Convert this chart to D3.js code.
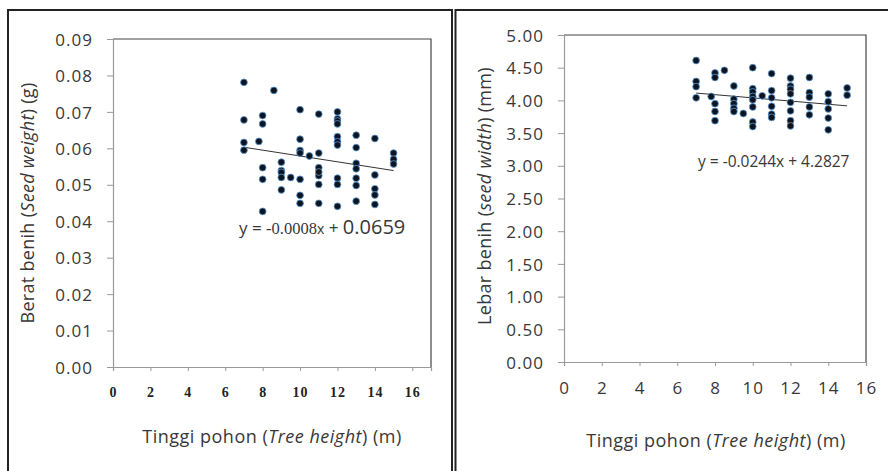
<!DOCTYPE html>
<html>
<head>
<meta charset="utf-8">
<script src="https://cdn.jsdelivr.net/npm/d3@7"></script>
<style>
body { margin: 0; background: #fff; }
svg { display: block; }
.tick-y { font-family: "Open Sans", sans-serif; font-size: 17px; fill: #383838; letter-spacing: 1px; }
.tick-x-serif { font-family: "Liberation Serif", serif; font-weight: bold; font-size: 14px; fill: #222; letter-spacing: 1px; }
.tick-x { font-family: "Open Sans", sans-serif; font-size: 17px; fill: #383838; letter-spacing: 1px; }
.axis-title { font-family: "Open Sans", sans-serif; font-size: 18px; fill: #383838; letter-spacing: 0.3px; }
.x-title { letter-spacing: 0.5px; }
.eq { font-family: "Open Sans", sans-serif; fill: #383838; }
</style>
</head>
<body>
<svg id="chart" width="888" height="471"></svg>
<script>
// tree height vs seed weight (left) and seed width (right)
var weightX = [7, 7, 7, 7, 7.8, 8.6, 8, 8, 8, 8, 8,
	9, 9, 9, 9, 9, 9.5,
	10, 10, 10, 10, 10, 10, 10, 10.5,
	11, 11, 11, 11, 11, 11, 11,
	12, 12, 12, 12, 12, 12, 12, 12, 12, 12,
	13, 13, 13, 13, 13, 13, 13,
	14, 14, 14, 14, 14, 15, 15, 15];
var weightY = [0.0781, 0.0678, 0.0616, 0.0595, 0.0619, 0.0759, 0.069, 0.0667, 0.0547, 0.0515, 0.0427,
	0.0562, 0.0539, 0.0534, 0.052, 0.0486, 0.052,
	0.0706, 0.0625, 0.0594, 0.0587, 0.0515, 0.0471, 0.0449, 0.0579,
	0.0694, 0.0587, 0.0547, 0.0525, 0.0535, 0.0501, 0.0449,
	0.07, 0.0681, 0.0675, 0.0667, 0.0632, 0.0618, 0.0609, 0.0518, 0.0501, 0.0441,
	0.0636, 0.0602, 0.0559, 0.0544, 0.0518, 0.0498, 0.0455,
	0.0627, 0.0527, 0.0489, 0.0472, 0.0446, 0.0587, 0.057, 0.0557];

var widthX = [7, 7, 7, 7, 7.8, 8, 8, 8, 8, 8, 8.5,
	9, 9, 9, 9, 9, 9.5,
	10, 10, 10, 10, 10, 10, 10, 10, 10.5,
	11, 11, 11, 11, 11, 11,
	12, 12, 12, 12, 12, 12, 12, 12,
	13, 13, 13, 13, 13,
	14, 14, 14, 14, 14, 15, 15];
var widthY = [4.61, 4.29, 4.21, 4.04, 4.06, 4.42, 4.35, 3.95, 3.83, 3.69, 4.46,
	4.22, 4.02, 3.95, 3.88, 3.83, 3.80,
	4.50, 4.18, 4.13, 4.06, 4.01, 3.90, 3.67, 3.60, 4.07,
	4.41, 4.15, 4.04, 3.91, 3.79, 3.74,
	4.34, 4.22, 4.17, 4.10, 3.97, 3.84, 3.69, 3.61,
	4.35, 4.12, 4.05, 3.90, 3.78,
	4.10, 3.98, 3.87, 3.73, 3.55, 4.19, 4.08];

var weightTicks = [0, 0.01, 0.02, 0.03, 0.04, 0.05, 0.06, 0.07, 0.08, 0.09];
var widthTicks = [0, 0.5, 1, 1.5, 2, 2.5, 3, 3.5, 4, 4.5, 5];
var heightTicks = [0, 2, 4, 6, 8, 10, 12, 14, 16];

var weightFit = [-0.0008, 0.0659];
var widthFit = [-0.0244, 4.2827];

var svg = d3.select("#chart");

// outer frames
svg.append("rect").attr("x", 8).attr("y", 10).attr("width", 444).attr("height", 480)
	.attr("fill", "none").attr("stroke", "#222").attr("stroke-width", 2);
svg.append("rect").attr("x", 455.5).attr("y", 10).attr("width", 440).attr("height", 480)
	.attr("fill", "none").attr("stroke", "#222").attr("stroke-width", 2);

function drawPanel(opt) {
	var x = d3.scaleLinear().domain(opt.xDomain).range([opt.left, opt.right]);
	var y = d3.scaleLinear().domain(opt.yDomain).range([opt.bottom, opt.top]);
	var g = svg.append("g");

	// plot area frame
	g.append("path")
		.attr("d", "M" + opt.left + "," + opt.top + " L" + opt.right + "," + opt.top +
			" L" + opt.right + "," + opt.bottom)
		.attr("fill", "none").attr("stroke", "#444").attr("stroke-width", 1.2);

	var yAxis = g.append("g")
		.attr("transform", "translate(" + opt.left + ",0)")
		.call(d3.axisLeft(y).tickValues(opt.yTicks).tickSize(6).tickPadding(14)
			.tickFormat(d3.format(opt.yFormat)));
	yAxis.selectAll("text").attr("class", "tick-y").attr("dy", "0.36em");

	var xAxis = g.append("g")
		.attr("transform", "translate(0," + opt.bottom + ")")
		.call(d3.axisBottom(x).tickValues(heightTicks).tickSize(4).tickPadding(16));
	xAxis.selectAll("text").attr("class", opt.xTickClass);

	g.selectAll(".domain").attr("stroke", "#999").attr("stroke-width", 1.2);
	g.selectAll(".tick line").attr("stroke", "#999");

	// trend line
	var x0 = d3.min(opt.xs), x1 = d3.max(opt.xs);
	g.append("line")
		.attr("x1", x(x0)).attr("y1", y(opt.fit[0] * x0 + opt.fit[1]))
		.attr("x2", x(x1)).attr("y2", y(opt.fit[0] * x1 + opt.fit[1]))
		.attr("stroke", "#333").attr("stroke-width", 1);

	g.selectAll("circle.pt").data(opt.xs).enter().append("circle")
		.attr("class", "pt")
		.attr("cx", function (d) { return x(d); })
		.attr("cy", function (d, i) { return y(opt.ys[i]); })
		.attr("r", 3.4)
		.attr("fill", "#0d1420")
		.attr("stroke", "#5b9bd5")
		.attr("stroke-width", 0.8);

	// axis titles
	g.append("text").attr("class", "axis-title")
		.attr("transform", "translate(" + opt.yTitleX + "," + opt.yTitleY + ") rotate(-90)")
		.attr("text-anchor", "middle")
		.call(function (t) {
			t.append("tspan").text(opt.yTitle[0]);
			t.append("tspan").attr("font-style", "italic").text(opt.yTitle[1]);
			t.append("tspan").text(opt.yTitle[2]);
		});
	g.append("text").attr("class", "axis-title x-title")
		.attr("x", opt.xTitleX).attr("y", opt.xTitleY)
		.attr("text-anchor", "middle")
		.call(function (t) {
			t.append("tspan").text("Tinggi pohon (");
			t.append("tspan").attr("font-style", "italic").text("Tree height");
			t.append("tspan").text(") (m)");
		});

	// equation
	var eq = g.append("text").attr("class", "eq")
		.attr("x", opt.eqX).attr("y", opt.eqY);
	opt.eqParts.forEach(function (p) {
		eq.append("tspan").attr("font-size", p[1]).attr("font-family", p[2] || null).text(p[0]);
	});
}

drawPanel({
	xDomain: [0, 17], yDomain: [0, 0.09],
	left: 113, right: 431, top: 39, bottom: 367,
	yTicks: weightTicks, yFormat: ".2f", xTickClass: "tick-x-serif",
	xs: weightX, ys: weightY, fit: weightFit,
	yTitle: ["Berat benih (", "Seed weight", ") (g)"],
	yTitleX: 34, yTitleY: 203, xTitleX: 272, xTitleY: 443,
	eqX: 239, eqY: 234,
	eqParts: [["y = ", "17px"], ["-0.0008", "16.5px", "Liberation Serif"], ["x", "14px"], [" + ", "17px"], ["0.0659", "20px"]]
});

drawPanel({
	xDomain: [0, 16], yDomain: [0, 5],
	left: 564, right: 866, top: 35, bottom: 362,
	yTicks: widthTicks, yFormat: ".2f", xTickClass: "tick-x",
	xs: widthX, ys: widthY, fit: widthFit,
	yTitle: ["Lebar benih (", "seed width", ") (mm)"],
	yTitleX: 491, yTitleY: 196, xTitleX: 716, xTitleY: 447,
	eqX: 698, eqY: 167,
	eqParts: [["y = -0.0244x + 4.2827", "15.5px"]]
});
</script>
</body>
</html>
